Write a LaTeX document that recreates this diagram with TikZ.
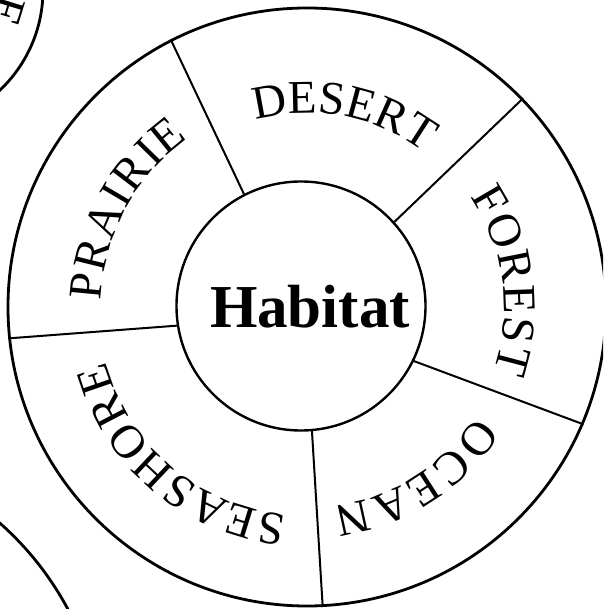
\documentclass[tikz,border=0pt]{standalone}
\usepackage{fontspec}
\setmainfont{Liberation Serif}
\usetikzlibrary{decorations.text}
\newcommand{\ringfont}{\fontsize{47}{50}\selectfont}
\newcommand{\hubfont}{\fontsize{61}{64}\selectfont\bfseries}

\begin{document}
\begin{tikzpicture}[x=1pt,y=1pt,
    ringline/.style={line width=2.8pt},
    spoke/.style={line width=2pt},
    ringlabel/.style={decorate, decoration={text along path, text align=fit to path, text={|\ringfont|#1}}}]
    \useasboundingbox (-307,-302) rectangle (296,307);
    \clip (-307,-302) rectangle (296,307);

    \node[circle, draw, ringline, minimum size=598pt, inner sep=0pt] (wheel) at (0,0) {};
    \node[circle, draw, line width=2.4pt, minimum size=249pt, inner sep=0pt] (hab) at (-6,1) {};
    \node[font=\hubfont, anchor=base, inner sep=0pt] (habword) at (3,-21) {Habitat};

    \foreach \a/\b in {117/117.3,42.5/44.6,-26/-23.3,-85/-87.3,189/186.8}
        \draw[spoke] (hab.\a) -- (wheel.\b);

    \path[ringlabel=DESERT] (105.4:194) arc[start angle=105.4, end angle=53.2, radius=194];
    \path[ringlabel=FOREST] (34.1:197) arc[start angle=34.1, end angle=-18.9, radius=197];
    \path[ringlabel=OCEAN] (-32.7:201) arc[start angle=-32.7, end angle=-82.4, radius=201];
    \path[ringlabel=SEASHORE] (264.3:209) arc[start angle=264.3, end angle=195.1, radius=209];
    \path[ringlabel=PRAIRIE] (178.2:206) arc[start angle=178.2, end angle=125.2, radius=206];

    \draw[ringline] (-402,317) circle (138);
    \draw[ringline] (-511,-447) circle (308);
    \node[font=\ringfont, rotate=-107] (frag) at (-300,296) {E};
\end{tikzpicture}
\end{document}
